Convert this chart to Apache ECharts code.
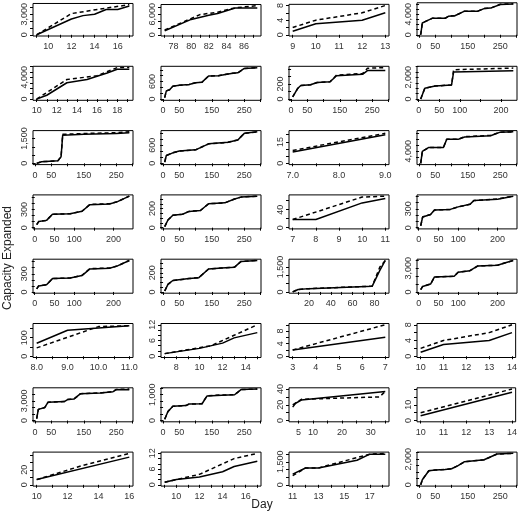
<!DOCTYPE html><html><head><meta charset="utf-8">
<script src="https://cdn.jsdelivr.net/npm/echarts@6/dist/echarts.min.js"></script>
<style>body{margin:0}#c{width:520px;height:520px}</style></head><body><div id="c"></div>
<script>
// each panel: x data range, x tick step, x labels, y max, y tick step, y labels, solid, dashed
const xRanges=[[9,17],[77,87.5],[9,13],[5,290],[10,19.2],[5,290],[5,290],[5,230],
[5,290],[5,290],[7,9],[5,290],[5,240],[5,290],[7,11],[5,240],
[5,240],[5,290],[5,90],[5,240],[8,11],[7,15],[3,7],[10,14],
[5,290],[5,290],[3,35],[10,14],[10,16],[9,17],[11,18.2],[5,290]];
const xSteps=[1,1,1,50,1,50,50,50, 50,50,0.5,50,50,50,1,50, 50,50,10,50,0.5,1,1,1, 50,50,5,1,1,1,1,50];
const xLabels=[[10,12,14,16],[78,80,82,84,86],[9,10,11,12,13],[0,50,150,250],[10,12,14,16,18],[0,50,150,250],[0,50,150,250],[0,50,100,200],
[0,50,150,250],[0,50,150,250],[7,8,9],[0,50,150,250],[0,50,100,200],[0,50,150,250],[7,8,9,10,11],[0,50,100,200],
[0,50,100,200],[0,50,150,250],[20,40,60,80],[0,50,100,200],[8,9,10,11],[8,10,12,14],[3,4,5,6,7],[10,11,12,13,14],
[0,50,150,250],[0,50,150,250],[5,10,20,30],[10,11,12,13,14],[10,12,14,16],[10,12,14,16],[11,13,15,17],[0,50,150,250]];
const yMax=[4400,8500,8,6000,5800,1080,420,2900, 1900,1050,22,10500,520,330,70,500, 520,330,1900,4000,170,12,10,8, 4800,1220,40,20,42,12,2050,2450];
const ySteps=[1000,2000,2,1000,1000,200,100,500, 500,200,5,2000,100,50,20,100, 100,50,500,1000,50,2,2,2, 1000,250,10,5,10,2,500,500];
const yLabels=[[0,3000],[0,6000],[0,4,8],[0,4000],[0,4000],[0,600],[0,200],[0,2000],
[0,1500],[0,600],[0,15],[0,4000],[0,300],[0,200],[0,40],[0,300],
[0,300],[0,200],[0,1500],[0,3000],[0,100],[0,6,12],[0,4,8],[0,4,8],
[0,3000],[0,1000],[0,20,40],[0,10],[0,20],[0,6,12],[0,1500],[0,2000]];
const solid=[
[[9,0],[12,2300],[13,2800],[14,3000],[15,3700],[16,3700],[17,4200]],
[[77,1200],[80,4500],[82,5700],[83,6200],[85,7800],[87.5,7800]],
[[9,1],[10,3],[12,4],[13,6]],
[[5,0],[10,2300],[20,2600],[40,3200],[80,3200],[90,3600],[110,3700],[140,4600],[180,4600],[200,5100],[220,5200],[250,5900],[290,6000]],
[[10,0],[11,700],[13,3000],[15,3600],[17,4800],[18,5500],[19.2,5500]],
[[5,50],[10,280],[20,320],[30,440],[50,470],[80,500],[100,560],[120,580],[140,790],[170,800],[210,880],[230,900],[250,1050],[290,1070]],
[[5,30],[20,140],[30,180],[60,190],[80,220],[120,230],[140,310],[220,330],[235,380],[290,380]],
[[5,0],[15,1000],[40,1200],[80,1300],[85,2500],[230,2600]],
[[5,0],[20,100],[70,150],[80,400],[85,1700],[150,1750],[250,1800],[290,1850]],
[[5,40],[10,260],[30,350],[50,410],[100,450],[140,650],[200,700],[230,780],[250,1000],[290,1050]],
[[7,8],[9,20]],
[[5,0],[10,4000],[30,5300],[75,5300],[85,8000],[120,8000],[140,8800],[220,9200],[250,10400],[290,10500]],
[[5,50],[10,100],[30,120],[45,220],[90,230],[95,260],[120,270],[140,380],[190,390],[210,430],[240,520]],
[[5,10],[15,80],[30,130],[60,140],[80,170],[115,180],[140,250],[190,260],[220,300],[240,320],[290,330]],
[[7,18],[8,18],[10,55],[11,65]],
[[5,30],[10,170],[30,210],[40,280],[80,290],[100,330],[130,370],[140,430],[200,450],[240,500]],
[[5,50],[10,100],[30,120],[45,220],[90,230],[95,260],[120,270],[140,380],[190,390],[210,430],[240,520]],
[[5,10],[15,80],[30,120],[80,140],[110,150],[140,240],[180,250],[220,260],[240,320],[290,330]],
[[5,0],[10,150],[20,200],[78,350],[85,1300],[90,1900]],
[[5,300],[10,700],[30,1000],[40,1900],[90,2000],[100,2500],[130,2700],[150,3300],[200,3400],[220,3700],[240,4000]],
[[8,70],[9,140],[11,165]],
[[7,1],[10,3],[12,5],[13,7],[15,9]],
[[3,2],[7,6]],
[[10,1],[11,3],[13,4],[14,6]],
[[5,300],[10,1700],[30,2000],[40,2800],[90,2900],[100,3200],[120,3300],[140,4100],[200,4200],[240,4400],[250,4700],[290,4700]],
[[5,50],[15,350],[30,550],[70,580],[80,640],[120,650],[135,950],[180,980],[220,1000],[240,1200],[290,1220]],
[[3,17],[4,22],[6,26],[35,37]],
[[10,3],[14,18]],
[[10,7],[16,37]],
[[9,1],[10,2],[12,3],[14,5],[15,7],[17,9]],
[[11,700],[12,1100],[13,1100],[16,1600],[17,2000],[18.2,2000]],
[[5,0],[10,400],[30,1100],[50,1150],[80,1200],[100,1250],[120,1500],[140,1800],[200,1950],[240,2400],[290,2450]]];
const dashed=[
[[9,0],[12,3100],[15,3900],[17,4400]],
[[77,1400],[81,5900],[83,6600],[85,7900],[87.5,8500]],
[[9,2],[10,4],[12,6],[13,8]],
[[5,0],[10,2300],[20,2600],[40,3200],[80,3200],[90,3600],[110,3700],[140,4600],[180,4600],[200,5100],[220,5200],[250,5950],[290,6050]],
[[10,0],[13,3600],[16,4300],[18,5800],[19.2,5800]],
[[5,50],[10,280],[20,320],[30,440],[50,470],[80,500],[100,560],[120,580],[140,790],[170,800],[210,880],[230,900],[250,1050],[290,1080]],
[[5,30],[20,140],[30,180],[60,190],[80,220],[120,230],[140,320],[220,340],[235,410],[290,420]],
[[5,0],[15,1000],[40,1200],[80,1300],[85,2700],[230,2850]],
[[5,0],[20,100],[70,150],[80,400],[85,1750],[150,1800],[250,1850],[290,1900]],
[[5,40],[10,260],[30,350],[50,410],[100,450],[140,650],[200,700],[230,780],[250,1000],[290,1050]],
[[7,9],[9,21]],
[[5,0],[10,4000],[30,5300],[75,5300],[85,8000],[120,8000],[140,8900],[220,9300],[250,10400],[290,10500]],
[[5,50],[10,100],[30,120],[45,220],[90,230],[95,260],[120,270],[140,385],[190,395],[210,430],[240,520]],
[[5,10],[15,80],[30,130],[60,140],[80,170],[115,180],[140,250],[190,260],[220,300],[240,320],[290,330]],
[[7,18],[10,68],[11,70]],
[[5,30],[10,170],[30,210],[40,280],[80,290],[100,330],[130,370],[140,430],[200,455],[240,500]],
[[5,50],[10,100],[30,120],[45,220],[90,230],[95,260],[120,275],[140,385],[190,395],[210,430],[240,520]],
[[5,10],[15,80],[30,120],[80,140],[110,150],[140,240],[180,250],[220,260],[240,320],[290,330]],
[[5,0],[10,150],[20,200],[78,350],[85,1500],[90,1900]],
[[5,300],[10,700],[30,1000],[40,1900],[90,2000],[100,2500],[130,2700],[150,3300],[200,3400],[220,3700],[240,4000]],
[[8,45],[10,160],[11,165]],
[[7,1],[11,4],[13,8],[15,12]],
[[3,2],[7,10]],
[[10,2],[11,4],[13,6],[14,8]],
[[5,300],[10,1700],[30,2000],[40,2800],[90,2900],[100,3200],[120,3300],[140,4100],[200,4200],[240,4400],[250,4750],[290,4800]],
[[5,50],[15,350],[30,550],[70,580],[80,640],[120,650],[135,960],[180,990],[220,1000],[240,1200],[290,1220]],
[[3,20],[6,27],[33,30],[35,37]],
[[10,5],[14,20]],
[[10,7],[13,26],[16,42]],
[[9,1],[12,4],[15,10],[17,12]],
[[11,600],[12,1100],[13,1100],[17,2000],[18.2,2050]],
[[5,0],[10,400],[30,1100],[50,1150],[80,1200],[100,1250],[120,1500],[140,1800],[200,1950],[240,2400],[290,2450]]];

const fmt=v=>Number.isInteger(v)?v.toLocaleString('en-US'):String(v);
const grids=[],xAxes=[],yAxes=[],series=[];
const colL=[33,161,289,417], W=100, H=34;
for(let i=0;i<32;i++){
  const r=Math.floor(i/4),c=i%4;
  grids.push({left:colL[c],top:2+r*64.3,width:W,height:H,show:true,borderColor:'#000',borderWidth:1,backgroundColor:'transparent',containLabel:false});
  const [lo,hi]=xRanges[i],pad=(hi-lo)*0.04,st=xSteps[i];
  const ticks=[];for(let t=Math.ceil((lo-pad)/st-1e-9)*st;t<=hi+pad+1e-9;t+=st)ticks.push(+t.toFixed(3));
  const dec=i===10||i===20;
  xAxes.push({type:'value',gridIndex:i,min:lo-pad,max:hi+pad,splitLine:{show:false},axisLine:{show:false},
    axisTick:{show:true,length:3,customValues:ticks,lineStyle:{color:'#000'}},
    axisLabel:{customValues:xLabels[i],fontSize:9,color:'#333',margin:6,fontFamily:'Liberation Sans',formatter:v=>dec?v.toFixed(1):String(v)}});
  const ym=yMax[i],yp=ym*0.04,ys=ySteps[i];
  const yt=[];for(let t=0;t<=ym+yp+1e-9;t+=ys)yt.push(t);
  yAxes.push({type:'value',gridIndex:i,min:-yp,max:ym+yp,splitLine:{show:false},axisLine:{show:false},
    axisTick:{show:true,length:3,customValues:yt,lineStyle:{color:'#000'}},
    axisLabel:{customValues:yLabels[i],rotate:90,fontSize:9,color:'#333',margin:4,fontFamily:'Liberation Sans',formatter:fmt}});
  series.push({type:'line',xAxisIndex:i,yAxisIndex:i,data:solid[i],symbol:'none',silent:true,lineStyle:{color:'#000',width:1.5}});
  series.push({type:'line',xAxisIndex:i,yAxisIndex:i,data:dashed[i],symbol:'none',silent:true,lineStyle:{color:'#000',width:1.5,type:[4,3]}});
}
const ch=echarts.init(document.getElementById('c'),null,{renderer:'canvas'});
ch.setOption({animation:false,backgroundColor:'#fff',grid:grids,xAxis:xAxes,yAxis:yAxes,series,
 graphic:[{type:'text',x:2,y:258,rotation:Math.PI/2,style:{text:'Capacity Expanded',font:'12px Liberation Sans',fill:'#222',textAlign:'center',textVerticalAlign:'top'}},
 {type:'text',x:262,y:499,style:{text:'Day',font:'12px Liberation Sans',fill:'#222',textAlign:'center'}}]});
</script></body></html>
